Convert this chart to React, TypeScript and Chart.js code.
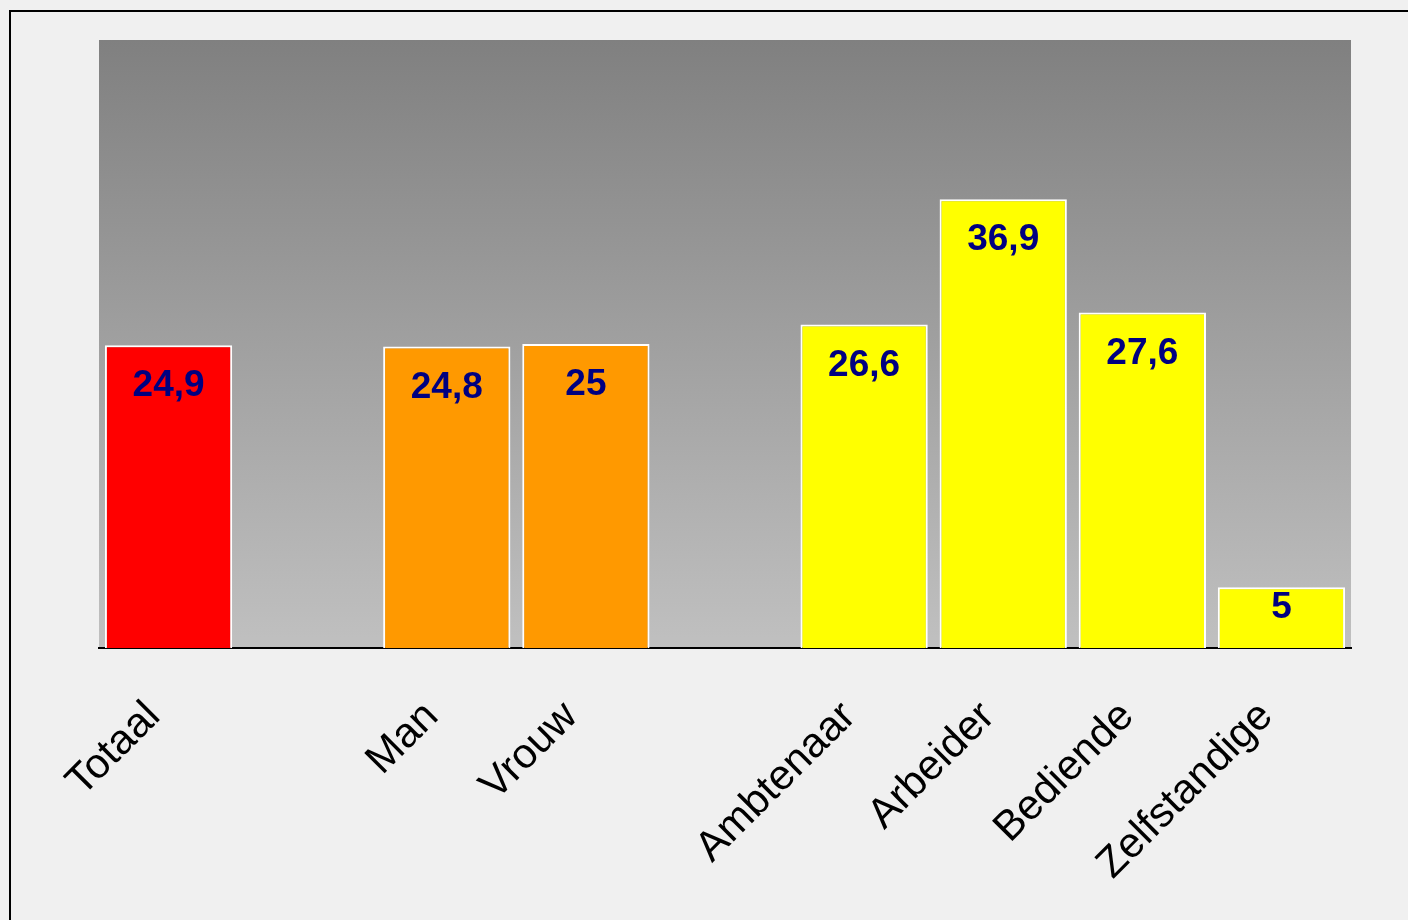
import React, { useEffect, useRef } from "react";
import { Chart, registerables } from "chart.js";

Chart.register(...registerables);

const categories: string[] = ["Totaal", "", "Man", "Vrouw", "", "Ambtenaar", "Arbeider", "Bediende", "Zelfstandige"];
const values: (number | null)[] = [24.9, null, 24.8, 25, null, 26.6, 36.9, 27.6, 5];
const barColors: string[] = ["#ff0000", "#ff0000", "#ff9900", "#ff9900", "#ffff00", "#ffff00", "#ffff00", "#ffff00", "#ffff00"];
const yMin = 0;
const yMax = 50;

const W = 1408;
const H = 920;

const bgPlugin = {
  id: "plotBg",
  beforeDraw(chart: any) {
    const { ctx, chartArea } = chart;
    if (!chartArea) return;
    const g = ctx.createLinearGradient(0, chartArea.top, 0, chartArea.bottom);
    g.addColorStop(0, "#808080");
    g.addColorStop(1, "#c0c0c0");
    ctx.save();
    ctx.fillStyle = g;
    ctx.fillRect(chartArea.left, chartArea.top, chartArea.right - chartArea.left, chartArea.bottom - chartArea.top);
    ctx.restore();
  },
};

const valueLabelPlugin = {
  id: "valueLabels",
  afterDatasetsDraw(chart: any) {
    const { ctx } = chart;
    const meta = chart.getDatasetMeta(0);
    ctx.save();
    ctx.font = "bold 37px 'Liberation Sans', Arial, sans-serif";
    ctx.fillStyle = "#000080";
    ctx.textAlign = "center";
    ctx.textBaseline = "middle";
    meta.data.forEach((bar: any, i: number) => {
      const v = values[i];
      if (v === null || v === undefined) return;
      const y = Math.min(bar.y + 41, bar.base - 40);
      ctx.fillText(String(v).replace(".", ","), bar.x, y);
    });
    ctx.restore();
  },
};

export default function App() {
  const ref = useRef<HTMLCanvasElement | null>(null);

  useEffect(() => {
    document.body.style.background = "#f0f0f0";
    if (!ref.current) return;
    const chart = new Chart(ref.current, {
      type: "bar",
      data: {
        labels: categories,
        datasets: [
          {
            data: values,
            backgroundColor: barColors,
            borderColor: "#ffffff",
            borderWidth: 2,
            barPercentage: 0.915,
            categoryPercentage: 1,
          },
        ],
      },
      options: {
        responsive: false,
        maintainAspectRatio: false,
        animation: false,
        layout: { padding: { left: 99, right: 57, top: 40, bottom: 0 } },
        plugins: {
          legend: { display: false },
          tooltip: { enabled: false },
        },
        scales: {
          y: {
            display: false,
            min: yMin,
            max: yMax,
          },
          x: {
            grid: { display: false, drawTicks: false },
            border: { display: true, color: "#000000", width: 2 },
            ticks: {
              autoSkip: false,
              maxRotation: 45,
              minRotation: 45,
              padding: 44,
              labelOffset: -15,
              color: "#000000",
              font: { family: "'Liberation Sans', Arial, sans-serif", size: 42 },
            },
            afterFit(scale: any) {
              scale.height = 272;
            },
          },
        },
      },
      plugins: [bgPlugin, valueLabelPlugin],
    });
    return () => chart.destroy();
  }, []);

  return (
    <div style={{ position: "fixed", left: 0, top: 0, width: W, height: H, overflow: "hidden", background: "#f0f0f0" }}>
      <div
        style={{
          position: "absolute",
          left: 9,
          top: 10,
          width: 1500,
          height: 1000,
          border: "2px solid #000000",
          boxSizing: "border-box",
        }}
      />
      <canvas ref={ref} width={W} height={H} style={{ position: "absolute", left: 0, top: 0, width: W, height: H }} />
    </div>
  );
}
